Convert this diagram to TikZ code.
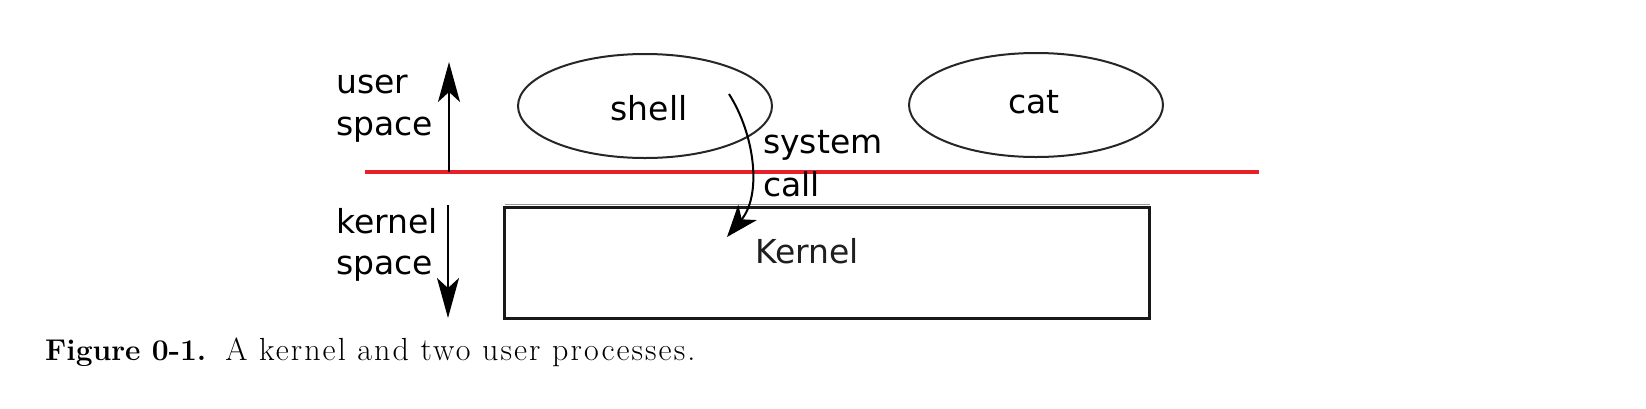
\documentclass[tikz,border=0pt]{standalone}
\usepackage{fontspec}
\newfontfamily\djv{DejaVu Sans}
\newfontfamily\capfont[LetterSpace=6.4]{Latin Modern Roman}
\usetikzlibrary{arrows.meta,shapes.geometric}
\begin{document}
\begin{tikzpicture}[x=1pt,y=-1pt,
  lbl/.style={font=\djv\fontsize{33}{40}\selectfont, inner sep=0pt, anchor=base west},
  proc/.style={draw=black!85, line width=2pt, ellipse, minimum width=254pt, minimum height=104pt, inner sep=0pt},
  spacearrow/.style={line width=2pt, -{Stealth[length=40pt,width=22pt,inset=10pt]}},
  callarrow/.style={line width=2pt, -{Stealth[length=32pt,width=24pt,inset=9pt]}},
  redline/.style={line width=4pt, draw={rgb,255:red,232;green,30;blue,40}},
  kbox/.style={draw=black!90, line width=3pt, minimum width=645pt, minimum height=111pt, inner sep=0pt, outer sep=0pt, anchor=north west},
]
\useasboundingbox[fill=white] (0,0) rectangle (1646,408);

% processes
\node[proc] (shell) at (645,106) {};
\node[proc] (cat) at (1036,105) {};
\node[lbl, anchor=base] (shellt) at (649,120) {shell};
\node[lbl, anchor=base] (catt) at (1034,113) {cat};

% boundary line
\coordinate (rl) at (365,172);
\coordinate (rr) at (1259,172);
\draw[redline] (rl) -- (rr);

% kernel box
\node[kbox] (kernel) at (504.5,207.5) {};
\draw[black!40, line width=1.5pt] ([yshift=3pt]kernel.north west) -- ([yshift=3pt]kernel.north east);
\node[lbl, text=black!88] (kernelt) at (755,263) {Kernel};

% side labels
\node[lbl] (user1) at (336,93) {user};
\node[lbl] (user2) at (336,135) {space};
\node[lbl] (kern1) at (336,233) {kernel};
\node[lbl] (kern2) at (336,274) {space};
\node[lbl] (sys1) at (763,153) {system};
\node[lbl] (sys2) at (763,196) {call};

% side arrows
\coordinate (ua1) at (449,172);
\coordinate (ua2) at (449,62);
\draw[spacearrow] (ua1) -- (ua2);
\coordinate (da1) at (448,205);
\coordinate (da2) at (448,318);
\draw[spacearrow] (da1) -- (da2);

% system call arrow
\coordinate (sc1) at (729,94);
\coordinate (sc2) at (727,237);
\draw[callarrow] (sc1) .. controls (755,135) and (762,195) .. (sc2);

% caption
\node[anchor=base west, inner sep=0pt] (cap) at (45,360)
  {{\fontsize{30}{36}\selectfont\bfseries Figure 0-1.}\hspace{19pt}{\capfont\fontsize{32}{38}\selectfont A kernel and two user processes.}};
\end{tikzpicture}
\end{document}
